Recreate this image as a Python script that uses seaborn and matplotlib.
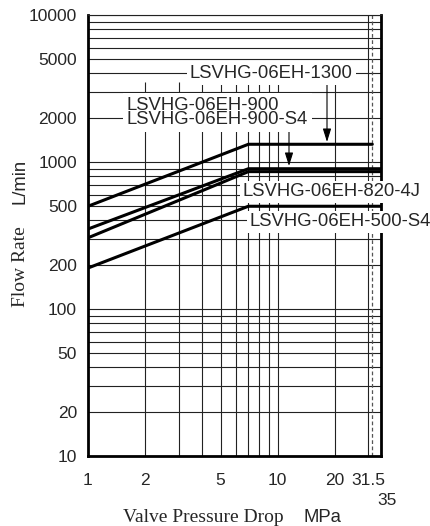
import matplotlib
matplotlib.use('Agg')
import matplotlib.pyplot as plt
import numpy as np
import pandas as pd
import seaborn as sns
from matplotlib.ticker import FixedLocator, LogLocator, NullFormatter

# flow curves (pressure in MPa, flow in L/min)
pressure_1300 = [1, 7, 31.5]
flow_1300 = [500, 1320, 1320]
pressure_900 = [1, 7, 35]
flow_900 = [350, 900, 900]
pressure_820 = [1, 7, 35]
flow_820 = [305, 860, 860]
pressure_500 = [1, 7, 35]
flow_500 = [190, 500, 500]

y_ticks = [10, 20, 50, 100, 200, 500, 1000, 2000, 5000, 10000]
x_ticks = [1, 2, 5, 10, 20, 30]
x_ticklabels = ['1', '2', '5', '10', '20', '31.5']
x_grid = [2, 3, 4, 5, 6, 7, 8, 9, 10, 20]

W, H = 431, 526

rows = []
for name, px_, fl in [('1300', pressure_1300, flow_1300),
                      ('900', pressure_900, flow_900),
                      ('820', pressure_820, flow_820),
                      ('500', pressure_500, flow_500)]:
    for p, f in zip(px_, fl):
        rows.append({'model': name, 'pressure': p, 'flow': f})
df = pd.DataFrame(rows)

sns.set_style('white')
plt.rcParams['font.family'] = ['Liberation Sans', 'DejaVu Sans']

fig = plt.figure(figsize=(W / 100, H / 100), dpi=100)
ax = fig.add_axes([88 / W, 70 / H, 293 / W, 441 / H])

sns.lineplot(data=df, x='pressure', y='flow', hue='model',
             palette={m: 'black' for m in df['model'].unique()},
             estimator=None, sort=False, lw=2.2, legend=False, ax=ax, zorder=4)

ax.set_xscale('log')
ax.set_yscale('log')
ax.set_xlim(1, 35)
ax.set_ylim(10, 10000)

# y grid: every multiple in each decade
ax.yaxis.set_major_locator(FixedLocator(y_ticks))
ax.set_yticklabels([str(v) for v in y_ticks])
ax.yaxis.set_minor_locator(LogLocator(base=10, subs=np.arange(1, 10)))
ax.yaxis.set_minor_formatter(NullFormatter())
ax.grid(axis='y', which='both', color='#222222', lw=0.8)

ax.xaxis.set_major_locator(FixedLocator(x_ticks))
ax.set_xticklabels(x_ticklabels)
ax.xaxis.set_minor_locator(FixedLocator([]))
ax.grid(axis='x', visible=False)

ax.vlines(x_grid, 10, 3500, color='#222222', lw=0.8, zorder=1)
ax.axvline(30, color='#222222', lw=0.8, zorder=1)
ax.axvline(31.5, color='#555555', lw=0.9, ls=(0, (3, 2)), zorder=1)

ax.tick_params(which='both', length=0, labelsize=12.5)
ax.tick_params(axis='y', pad=8)
ax.tick_params(axis='x', pad=12)
for s in ['left', 'right', 'bottom']:
    ax.spines[s].set_linewidth(2)
    ax.spines[s].set_color('black')
ax.spines['top'].set_linewidth(0.8)
ax.spines['top'].set_color('#222222')
ax.set_xlabel('')
ax.set_ylabel('')


def fx(x):
    return x / W


def fy(y):
    return 1 - y / H


box = dict(fc='white', ec='none', pad=2)
lab = dict(fontsize=13.3, ha='left', va='baseline', bbox=box, zorder=5)
fig.text(fx(190), fy(78), 'LSVHG-06EH-1300', **lab)
fig.text(fx(127), fy(124), 'LSVHG-06EH-900\nLSVHG-06EH-900-S4', fontsize=13.3,
         ha='left', va='baseline', linespacing=0.78, zorder=5,
         bbox=dict(fc='white', ec='none', pad=3))
fig.text(fx(243), fy(196.5), 'LSVHG-06EH-820-4J', **lab)
fig.text(fx(250), fy(226.5), 'LSVHG-06EH-500-S4', **lab)

arrow = dict(arrowstyle='-|>,head_length=0.8,head_width=0.25', color='black',
             lw=0.8, shrinkA=0, shrinkB=0)
ax.annotate('', xy=(fx(327), fy(142)), xytext=(fx(327), fy(82)),
            xycoords='figure fraction', textcoords='figure fraction',
            arrowprops=arrow, annotation_clip=False)
ax.annotate('', xy=(fx(289), fy(166)), xytext=(fx(289), fy(126)),
            xycoords='figure fraction', textcoords='figure fraction',
            arrowprops=arrow, annotation_clip=False)

fig.text(fx(387), fy(505), '35', fontsize=12.5, ha='center', va='baseline')

fig.text(fx(203), fy(522), 'Valve Pressure Drop', fontsize=14,
         family=['Liberation Serif', 'DejaVu Serif'], ha='center', va='baseline')
fig.text(fx(322), fy(522), 'MPa', fontsize=13.3, ha='center', va='baseline')
fig.text(fx(29), fy(267), 'Flow Rate', fontsize=14, rotation=90,
         family=['Liberation Serif', 'DejaVu Serif'], ha='right', va='center')
fig.text(fx(29), fy(181), 'L/min', fontsize=13.3, rotation=90,
         ha='right', va='center')

fig.savefig('out.png', dpi=100)
